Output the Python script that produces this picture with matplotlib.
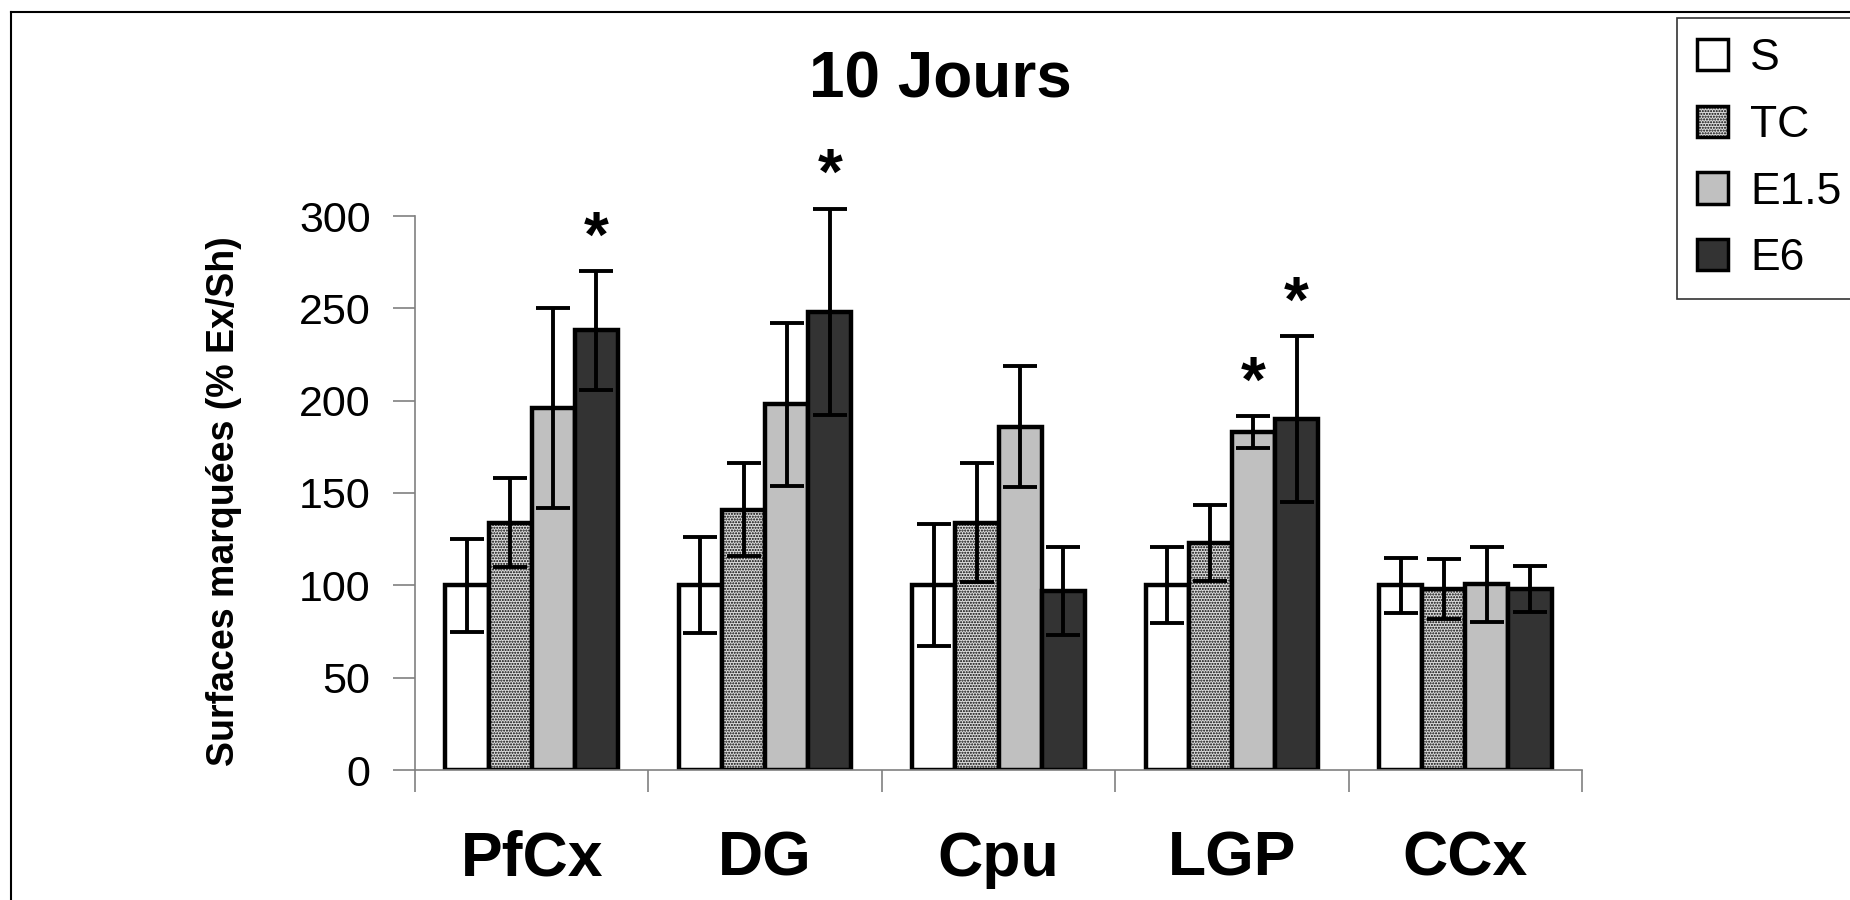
import numpy as np
import matplotlib
matplotlib.use("Agg")
import matplotlib.pyplot as plt
from matplotlib.lines import Line2D
from matplotlib.patches import Patch
from matplotlib import font_manager

# ----------------------------
# Data
# ----------------------------
regions = ["PfCx", "DG", "Cpu", "LGP", "CCx"]
groups = ["S", "TC", "E1.5", "E6"]

s_mean = [100, 100, 100, 100, 100]
s_err = [25, 26, 33, 20.5, 15]
tc_mean = [134, 141, 134, 123, 98]
tc_err = [24, 25, 32, 20.5, 16]
e15_mean = [196, 198, 186, 183, 100.5]
e15_err = [54, 44, 33, 8.5, 20.5]
e6_mean = [238, 248, 97, 190, 98]
e6_err = [32, 56, 24, 45, 12.5]

# significance marks: (region index, group index)
stars = [(0, 3), (1, 3), (3, 2), (3, 3)]

yticks = [0, 50, 100, 150, 200, 250, 300]
title = "10 Jours"
ylabel = "Surfaces marquées (% Ex/Sh)"

# ----------------------------
# Style
# ----------------------------
names = {f.name for f in font_manager.fontManager.ttflist}
FONT = "Liberation Sans" if "Liberation Sans" in names else "DejaVu Sans"
NARROW = "Liberation Sans Narrow" if "Liberation Sans Narrow" in names else FONT
plt.rcParams.update({
    "font.family": [FONT, "DejaVu Sans"],
    "hatch.linewidth": 1.0,
})

faces = ["white", "#dcdcdc", "#c0c0c0", "#333333"]
hatches = [None, "......", None, None]
BAR_LW = 3.2
WIDTH = 0.185

fig = plt.figure(figsize=(18.5, 9), dpi=100)
ax = fig.add_axes([415 / 1850, 1 - 770 / 900, (1582 - 415) / 1850, (770 - 216) / 900])

means = [s_mean, tc_mean, e15_mean, e6_mean]
errs = [s_err, tc_err, e15_err, e6_err]
x = np.arange(len(regions))

for i, (m, e) in enumerate(zip(means, errs)):
    pos = x + (i - 1.5) * WIDTH
    ax.bar(pos, m, width=WIDTH, color=faces[i], edgecolor="black",
           linewidth=BAR_LW, hatch=hatches[i], zorder=2)
    eb = ax.errorbar(pos, m, yerr=e, fmt="none", ecolor="black",
                     elinewidth=2.8, capsize=12, capthick=2.8, zorder=3)
    for art in eb.lines[1] + eb.lines[2]:
        art.set_clip_on(False)

for r, g in stars:
    top = means[g][r] + errs[g][r]
    ax.annotate("*", (x[r] + (g - 1.5) * WIDTH, top), xytext=(0, 1),
                textcoords="offset points", ha="center", va="bottom",
                fontsize=46, fontweight="bold", annotation_clip=False)

ax.set_xlim(-0.5, len(regions) - 0.5)
ax.set_ylim(0, 300)
ax.set_yticks(yticks)
ax.set_yticklabels([str(t) for t in yticks], fontsize=31)
ax.tick_params(axis="y", length=16, width=1.2, color="#808080", pad=16)

# group boundaries as major ticks, labels on minor ticks at centres
ax.set_xticks(np.arange(-0.5, len(regions)))
ax.set_xticklabels([])
ax.tick_params(axis="x", which="major", length=16, width=1.2, color="#808080")
ax.set_xticks(x, minor=True)
ax.set_xticklabels(regions, minor=True, fontsize=45, fontweight="bold")
ax.tick_params(axis="x", which="minor", length=0, pad=43)

for side in ["top", "right"]:
    ax.spines[side].set_visible(False)
for side in ["left", "bottom"]:
    ax.spines[side].set_color("#808080")
    ax.spines[side].set_linewidth(1.2)

fig.text(940 / 1850, 1 - 80 / 900, title, ha="center", va="center",
         fontsize=46, fontweight="bold")
fig.text(224 / 1850, 1 - 501 / 900, ylabel, rotation=90, ha="center",
         va="center", fontsize=27, fontweight="bold", family=[NARROW, FONT])

# legend
handles = [Patch(facecolor=faces[i], edgecolor="black", linewidth=2.5,
                 hatch=hatches[i]) for i in range(len(groups))]
leg = fig.legend(handles, groups, loc="upper left",
                 bbox_to_anchor=(1677 / 1850, 1 - 18 / 900), fontsize=32,
                 frameon=True, fancybox=False, handlelength=0.7,
                 handleheight=0.7, handletextpad=0.5, labelspacing=0.58,
                 borderpad=0.45, borderaxespad=0)
leg.get_frame().set_edgecolor("black")
leg.get_frame().set_linewidth(1.2)

# outer frame (top and left edges visible)
fig.add_artist(Line2D([11 / 1850, 1], [1 - 12 / 900, 1 - 12 / 900],
                      color="black", linewidth=1.5, transform=fig.transFigure))
fig.add_artist(Line2D([11 / 1850, 11 / 1850], [0, 1 - 12 / 900],
                      color="black", linewidth=1.5, transform=fig.transFigure))

fig.savefig("out.png", dpi=100, facecolor="white")
